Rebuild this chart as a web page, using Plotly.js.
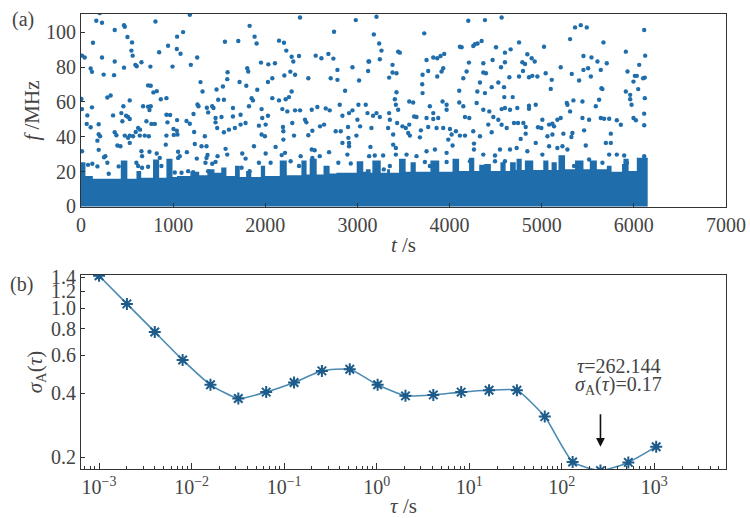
<!DOCTYPE html>
<html>
<head>
<meta charset="utf-8">
<script src="https://cdn.plot.ly/plotly-3.0.1.min.js"></script>
<style>html,body{margin:0;padding:0;background:#fff;}#chart{width:750px;height:518px;}</style>
</head>
<body>
<div id="chart"></div>
<script>
// ---------- (a) frequency record ----------
// upper envelope of the dense band of points (step levels starting at each time)
const bandTime = [0, 40, 120, 440, 495, 610, 645, 790, 840, 935, 985, 1050, 1195, 1275, 1380, 1440, 1530, 1570, 1680, 1715, 1800, 1840, 1960, 1990, 2165, 2225, 2400, 2440, 2490, 2550, 2640, 2690, 2780, 3000, 3055, 3100, 3135, 3170, 3245, 3330, 3345, 3460, 3515, 3585, 3625, 3800, 3880, 4040, 4095, 4220, 4260, 4330, 4370, 4385, 4440, 4560, 4600, 4665, 4710, 4735, 4775, 4825, 4900, 5025, 5065, 5115, 5155, 5190, 5245, 5370, 5445, 5530, 5590, 5715, 5750, 5880, 5895, 5935, 6040, 6150];
const bandFreq = [25, 17, 15.5, 26, 15.5, 20, 16, 26.5, 16, 27, 16.5, 17, 19.5, 17.5, 21, 19, 22, 17, 23, 16.5, 20, 16.5, 23, 17, 26, 17.5, 26, 18, 27, 18, 23, 18.5, 19, 25.5, 19.5, 21, 19, 26, 19, 21, 19, 27, 19.5, 25, 19.5, 26, 19.5, 27, 20, 27.5, 20, 23.5, 20, 24, 20, 25, 20, 25, 20.5, 27, 20.5, 26, 20.5, 26, 20.5, 25, 20.5, 29, 21, 26, 21, 26, 21, 23, 19.5, 24, 27, 20, 27.5, 27.5];

// scattered points above the band, [t (s), f (MHz)]
const points0to1500 = [[203,111],[166,106.6],[228,105.5],[366,101.3],[467,104.1],[475,103.2],[808,106.2],[1181,110],[1108,100.1],[1043,97.5],[945,92.3],[1040,90.4],[1080,87.7],[848,88.5],[504,97.3],[554,94.2],[547,89.5],[561,86.6],[656,82.8],[590,81.3],[605,80.5],[753,80.3],[993,80.3],[130,94],[228,85.5],[11,86.6],[40,85.5],[105,79.2],[119,77.3],[246,75.7],[366,83.2],[359,75.4],[467,79.7],[1192,81.3],[1261,85.5],
[5,61.7],[11,55.9],[119,56.9],[69,52.3],[62,47.4],[105,45.5],[192,47.2],[286,62.6],[322,63.7],[348,52.3],[438,53.6],[460,57.5],[529,60.9],[489,52.1],[511,51.4],[529,50.2],[449,48.9],[728,69.5],[757,69.3],[786,65.5],[822,66.2],[866,61.6],[927,62.2],[674,57.5],[728,57.3],[757,57.5],[743,55.4],[710,48.9],[764,47.4],[801,47.4],[620,45.1],[641,44.1],[594,42.8],[529,40.7],[565,40.3],[475,40.7],[366,42.6],[384,40.9],[192,41.5],[207,40.3],[178,37.8],[11,31.7],[192,32.5],[264,28.9],[250,28.3],[395,35],[428,34.6],[529,36.5],[511,39.4],[638,40.7],[692,40.7],[736,40.3],[656,31.7],[743,31.4],[663,28.9],[822,30.4],[855,27.9],[938,48.3],[927,52.7],[967,52.5],[1043,49.6],[1004,44.5],[1040,43.5],[1047,41.3],[1007,41.1],[927,40.7],[920,35.5],[1054,31.4],[1149,31.2],[1072,28.9],[1145,49.1],[1181,47.5],[1221,53.1],[1264,58.6],[1275,57.5],[1297,71.4],[1319,66],[1366,56.7],[1380,54],[1424,57.5],[1438,56.5],[1460,50.8],[1460,48.3],[1478,45.1],[1525,51.4],[1471,67.2],[1489,61.3],[1228,42.8],[1235,35.9],[1257,27.5],[1308,34.6],[1344,40.3],[1362,34.6],[1373,29.6],[1362,27.9],[1424,24.5],[1460,25.6],[1482,28.9],[1351,25.1],[1217,19.7],[1380,20.3],[1163,20.3],[1091,19.4],[1054,27.9],[76,23.9],[123,24.5],[178,23],[286,25.1],[301,18.8],[409,23],[601,25.1],[620,23.2],[663,22.2],[728,22.8],[873,23.2],[1018,19.5]];

const points1500to3100 = [[2377,108.5],[2982,107],[1830,103.7],[1562,94.6],[1707,95],[1884,97.5],[1906,93.6],[2149,95.2],[2203,94],[2228,89.5],[2286,86],[2304,83.2],[2366,86.4],[1953,82.6],[2033,81.6],[2105,82.2],[2272,77.4],[2207,75.2],[2323,75.6],[2547,86.6],[2609,85.1],[2685,87.6],[2739,84.9],[2746,100.3],[2783,78.4],[2710,73.6],[2783,72.7],[2467,73.6],[2946,79.9],[3018,72.3],[3120,83.2],[3116,77.8],[1591,77.1],[1587,73.1],[1540,68.9],[1721,71.5],[1794,69.3],[1804,79.4],[1815,77.5],[2029,71.5],[2076,73.6],[1913,67],[1852,62.2],[1866,60.9],[1823,57.5],[1551,61.3],[1649,56.5],[1649,51.7],[1732,52.7],[1786,47.9],[1732,47],[1670,45.1],[1605,44.1],[1551,42.6],[1960,55.9],[1967,50.8],[2029,52.1],[2004,47],[1931,46.4],[1960,41.3],[1996,40.3],[2076,62.2],[2149,60.9],[2221,61.6],[2257,62.8],[2286,66],[2185,55.9],[2239,54.6],[2323,55.2],[2377,55.2],[2293,47.9],[2192,45.6],[2196,43.2],[2312,40.7],[2196,38.4],[2431,49.8],[2446,48.3],[2504,55.5],[2565,57.1],[2656,56.3],[2699,55.2],[2594,46],[2638,47],[2467,40.9],[2511,43.5],[2764,43.2],[2819,43.2],[2808,58.4],[2837,52.1],[2909,53.6],[2946,55.2],[3011,58.4],[3090,58.4],[3000,49.8],[3029,46],[2866,66.4],[2898,45.6],[2902,39.4],[2909,36.5],[2909,34.6],[2837,36.5],[2989,40.7],[3109,53.6],[1569,33.1],[1587,29.8],[1750,30.4],[1786,27.5],[1877,34.6],[2004,30.4],[2112,34.2],[2178,29.5],[2214,30.8],[2384,28.9],[2504,32.7],[2536,32.3],[2511,27.9],[2591,28.9],[2692,31.2],[2891,29.8],[1931,25.1],[2058,25.1],[2275,26],[2366,23.2],[2793,25.1],[2928,24.7],[1743,22.2],[1830,20.3]];

const points3100to4700 = [[3207,108.9],[4203,106.6],[4384,107],[4565,108.5],[3178,98.8],[3725,99.4],[3236,93.6],[3261,89.5],[3442,88.9],[3460,88.3],[3127,83.2],[3243,84.5],[3381,81.3],[3381,76.9],[3424,76.5],[3344,74],[3750,84.1],[3823,85.5],[3866,85.1],[3902,86.4],[3942,87.6],[3931,79.4],[3913,77.5],[3866,74.6],[3768,77.8],[3707,75.6],[3703,70.2],[3707,65.1],[3786,57.5],[3823,53.6],[4112,91.7],[4131,91.4],[4257,92.1],[4275,93.1],[4304,93.6],[4348,95],[4504,91.4],[4601,88.3],[4663,90.2],[4210,82.6],[4185,77.5],[4149,73.6],[4366,82.2],[4366,76.9],[4395,76.5],[4467,84.1],[4558,79.9],[4601,82.8],[4649,74.2],[4529,71.2],[4457,68.5],[4591,68.5],[4330,71.2],[4301,66],[4384,65.1],[4594,62.8],[4685,62.8],[4105,66.4],[4105,59.7],[4149,57.5],[4294,59.4],[4366,55.5],[4431,54.6],[4475,51.4],[4565,55.9],[4601,56.5],[4656,55.5],[4529,49.8],[4565,46.9],[4620,45.1],[4420,47],[4457,42.6],[4330,40.3],[4257,43.2],[4167,51.4],[4214,50.8],[4069,43.2],[4112,40.7],[4167,40.7],[3968,58.4],[3968,55.5],[3924,60.3],[4004,44.5],[4022,41.3],[3986,38.4],[4033,35],[3968,30.8],[3931,45.1],[3859,45.1],[3877,50.8],[3823,50.2],[3750,50.8],[3768,45.6],[3689,43.7],[3678,39.7],[3616,51.7],[3641,51.4],[3562,60.3],[3605,59.7],[3562,47],[3525,45.1],[3551,42.2],[3569,40.7],[3489,46],[3431,47.9],[3442,55.5],[3417,58.4],[3406,61.6],[3424,65.6],[3344,53.6],[3352,49.8],[3333,45.1],[3388,41.3],[3388,35.5],[3417,33.6],[3417,29.8],[3243,51.4],[3170,52.1],[3207,53.6],[3152,45.1],[3141,34.2],[3127,28.9],[3188,29.3],[3279,29.3],[3533,29.8],[3641,28.9],[3750,31.7],[3841,32.7],[3732,25.5],[3786,23.2],[3968,25.5],[4265,36.1],[4265,32.7],[4221,26],[4366,29.8],[4493,29.3],[4547,32.7],[4656,32.7],[4493,26],[4601,26],[4402,22.2],[3286,21.3],[3352,23.2]];

const points4700to6150 = [[5362,102.8],[5424,104.1],[5489,102.8],[5308,96.1],[6112,101.3],[4754,94.2],[5025,91.7],[5670,94.2],[5913,88.9],[4844,87.4],[4790,82.8],[4819,81.8],[4891,85.1],[4924,83.2],[4797,77.8],[4754,74.6],[4862,74.2],[4898,75],[4953,74.6],[5043,76.5],[5109,72.7],[5098,67.5],[5206,79.9],[5453,86.4],[5540,85.6],[5605,83.2],[5706,82.2],[5453,78.4],[5504,79.4],[5533,74.6],[5641,78.4],[5326,76.1],[5406,72.3],[6058,81.3],[6123,86.6],[5931,77.5],[6011,75],[6032,75],[5996,71.7],[6101,73.6],[6119,74],[6047,67.4],[5913,66],[5960,64.1],[5960,61.6],[5975,58.4],[6119,62.2],[6112,53.3],[5996,50.8],[6022,49.5],[6112,46.6],[5648,67.9],[5659,67.4],[5623,61.3],[5587,57.5],[5442,60.3],[5344,60.9],[5272,59.4],[5308,54.6],[5279,58.4],[5206,50.8],[5170,49.8],[5116,47.5],[5080,47],[5007,49.8],[4960,45.5],[4996,45.1],[4935,58.4],[4862,57.8],[4862,56.1],[4735,56.5],[4699,47.9],[4743,47.9],[4801,47.9],[4826,45.6],[4826,41.8],[4772,38.8],[5062,40.3],[5116,41.3],[5134,46],[5235,41.8],[5333,42.2],[5322,39.9],[5442,50.8],[5514,49.8],[5460,43.7],[5641,50.8],[5677,50.4],[5732,50.4],[5750,41.8],[5815,49.5],[5859,46.9],[5696,36.5],[5750,36.5],[5478,35],[5225,34.6],[5170,33.6],[5080,34.6],[4935,36.5],[4844,31.7],[4728,33.6],[5007,29.8],[5279,32.7],[5514,27],[5732,29.8],[5815,29.8],[5895,29.3],[6112,28.9],[5659,25.1],[5351,23.2],[5924,25.1]];

const xTicksA = [0, 1000, 2000, 3000, 4000, 5000, 6000, 7000];
const yTicksA = [0, 20, 40, 60, 80, 100];

// ---------- (b) Allan deviation ----------
const tau = [0.001, 0.002, 0.004, 0.008, 0.016, 0.032, 0.064, 0.128, 0.256, 0.512, 1.024, 2.048, 4.096, 8.192, 16.384, 32.768, 65.536, 131.072, 262.144, 524.288, 1048.576];
const sigmaA = [1.42, 1.048, 0.774, 0.572, 0.437, 0.377, 0.404, 0.448, 0.508, 0.517, 0.437, 0.388, 0.392, 0.404, 0.412, 0.412, 0.31, 0.19, 0.173, 0.189, 0.224];
const xTicksB = [0.001, 0.01, 0.1, 1, 10, 100, 1000];
const xTickTextB = ['10<sup>−3</sup>', '10<sup>−2</sup>', '10<sup>−1</sup>', '10<sup>0</sup>', '10<sup>1</sup>', '10<sup>2</sup>', '10<sup>3</sup>'];
const yTicksB = [0.2, 0.4, 0.6, 0.8, 1.0, 1.2, 1.4];
const yTickTextB = ['0.2', '0.4', '0.6', '0.8', '1.0', '1.2', '1.4'];
const minTau = 262.144, minSigma = 0.17;

const allPoints = points0to1500.concat(points1500to3100, points3100to4700, points4700to6150);
const blue = '#1f6dab';
const FF = 'Liberation Serif';

const traces = [
  {x: bandTime, y: bandFreq, type: 'scatter', mode: 'lines', line: {shape: 'hv', color: blue, width: 1.5},
   fill: 'tozeroy', fillcolor: blue, xaxis: 'x', yaxis: 'y', hoverinfo: 'skip'},
  {x: allPoints.map(p => p[0]), y: allPoints.map(p => p[1]), type: 'scatter', mode: 'markers',
   marker: {size: 4.4, color: blue}, xaxis: 'x', yaxis: 'y'},
  {x: tau, y: sigmaA, type: 'scatter', mode: 'lines+markers', xaxis: 'x2', yaxis: 'y2',
   line: {color: '#4a8ab3', width: 1.6, shape: 'spline', smoothing: 0.5},
   marker: {symbol: 'asterisk-open', size: 10, color: '#1d5b8a', line: {width: 2, color: '#1d5b8a'}}}
];

function ax(extra) {
  return Object.assign({showline: true, mirror: true, linecolor: '#333', linewidth: 1.2, showgrid: false, zeroline: false,
    ticks: 'inside', ticklen: 4, tickcolor: '#333', tickfont: {family: FF, size: 20}}, extra);
}

const layout = {
  width: 750, height: 518,
  margin: {l: 81, r: 24, t: 14, b: 49},
  paper_bgcolor: '#fff', plot_bgcolor: '#fff',
  showlegend: false,
  xaxis: ax({domain: [0, 1], anchor: 'y', range: [0, 7000], tickmode: 'array', tickvals: xTicksA,
    title: {text: '<i>t</i> /s', standoff: 2, font: {family: FF, size: 21}}}),
  yaxis: ax({domain: [0.5758, 1], anchor: 'x', range: [-0.3, 110.5], tickmode: 'array', tickvals: yTicksA,
    title: {text: '<i>f</i> /MHz', standoff: 0, font: {family: FF, size: 21}}}),
  xaxis2: ax({type: 'log', domain: [0, 1], anchor: 'y2', range: [-3.195, 3.775], tickmode: 'array',
    tickvals: xTicksB, ticktext: xTickTextB, ticklen: 6,
    minor: {dtick: 'D1', ticks: 'inside', ticklen: 3, tickcolor: '#333'},
    title: {text: '<i>τ</i> /s', standoff: 13, font: {family: FF, size: 21}}}),
  yaxis2: ax({type: 'log', domain: [0, 0.4264], anchor: 'x2',
    range: [Math.log10(0.176), Math.log10(1.432)], tickmode: 'array', tickvals: yTicksB, ticktext: yTickTextB,
    title: {text: '<i>σ</i><sub>A</sub>(<i>τ</i>)', standoff: 2, font: {family: FF, size: 21}}}),
  annotations: [
    {xref: 'paper', yref: 'paper', x: -0.09, y: 0.987, text: '(a)', showarrow: false, xanchor: 'center', yanchor: 'middle', font: {family: FF, size: 20}},
    {xref: 'paper', yref: 'paper', x: -0.093, y: 0.4044, text: '(b)', showarrow: false, xanchor: 'center', yanchor: 'middle', font: {family: FF, size: 20}},
    {xref: 'x2', yref: 'y2', axref: 'x2', ayref: 'y2', x: Math.log10(minTau), y: -0.6505, ax: Math.log10(minTau), ay: -0.491,
     text: '', showarrow: true, arrowhead: 2, arrowsize: 1.1, arrowwidth: 1.6, arrowcolor: '#111'},
    {xref: 'x2', yref: 'y2', x: 2.617, y: -0.2706, text: '<i>τ</i>=' + minTau, showarrow: false, xanchor: 'center', yanchor: 'middle', font: {family: FF, size: 20}},
    {xref: 'x2', yref: 'y2', x: 2.617, y: -0.3645, text: '<i>σ</i><sub>A</sub>(<i>τ</i>)=' + minSigma, showarrow: false, xanchor: 'center', yanchor: 'middle', font: {family: FF, size: 20}}
  ]
};

Plotly.newPlot('chart', traces, layout, {displayModeBar: false});
</script>
</body>
</html>
